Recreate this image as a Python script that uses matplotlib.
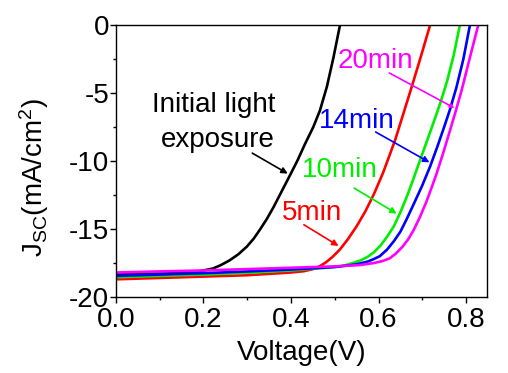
import matplotlib
matplotlib.use('Agg')
import matplotlib.pyplot as plt
from matplotlib.ticker import MultipleLocator, FormatStrFormatter

plt.rcParams['font.family'] = ['Liberation Sans', 'DejaVu Sans']
plt.rcParams['mathtext.default'] = 'regular'
plt.rcParams['axes.unicode_minus'] = False

# J-V curves (V in volts, J in mA/cm2)
v_init = [0.0, 0.05, 0.10, 0.146, 0.18, 0.20, 0.222, 0.24, 0.26, 0.28, 0.299, 0.315, 0.33, 0.345,
          0.36, 0.38, 0.398, 0.415, 0.432, 0.451, 0.466, 0.482, 0.497, 0.512]
j_init = [-18.35, -18.32, -18.28, -18.25, -18.15, -18.05, -17.9, -17.65, -17.3, -16.85, -16.3, -15.7,
          -15.0, -14.25, -13.4, -12.15, -11.03, -9.95, -8.75, -7.5, -6.3, -4.54, -2.4, 0.0]

v_5 = [0.0, 0.1, 0.2, 0.3, 0.4, 0.43, 0.45, 0.465, 0.48, 0.495, 0.512, 0.53, 0.55, 0.57, 0.59,
       0.61, 0.625, 0.638, 0.657, 0.676, 0.697, 0.718]
j_5 = [-18.7, -18.6, -18.5, -18.4, -18.2, -18.1, -17.95, -17.75, -17.45, -17.05, -16.5, -15.75,
       -14.8, -13.7, -12.4, -10.9, -9.6, -8.46, -6.5, -4.54, -2.3, 0.0]

v_10 = [0.0, 0.1, 0.2, 0.3, 0.4, 0.48, 0.52, 0.542, 0.56, 0.575, 0.59, 0.605, 0.62, 0.635, 0.649,
        0.665, 0.68, 0.695, 0.71, 0.726, 0.741, 0.757, 0.772, 0.786]
j_10 = [-18.55, -18.45, -18.35, -18.22, -18.05, -17.85, -17.7, -17.5, -17.3, -17.05, -16.7, -16.2,
        -15.55, -14.8, -13.85, -12.6, -11.3, -9.93, -8.6, -7.15, -5.76, -4.1, -2.2, 0.0]

v_14 = [0.0, 0.1, 0.2, 0.3, 0.4, 0.5, 0.55, 0.575, 0.59, 0.603, 0.62, 0.635, 0.65, 0.664, 0.68,
        0.70, 0.718, 0.735, 0.75, 0.763, 0.778, 0.794, 0.809]
j_14 = [-18.45, -18.35, -18.25, -18.12, -17.98, -17.8, -17.6, -17.4, -17.2, -17.0, -16.5, -15.9,
        -15.2, -14.3, -13.2, -11.8, -10.4, -8.9, -7.5, -6.25, -4.6, -2.5, 0.0]

v_20 = [0.0, 0.1, 0.2, 0.3, 0.4, 0.5, 0.558, 0.59, 0.61, 0.626, 0.64, 0.655, 0.668, 0.68, 0.695,
        0.71, 0.722, 0.733, 0.747, 0.762, 0.775, 0.79, 0.81, 0.828]
j_20 = [-18.2, -18.12, -18.05, -17.95, -17.85, -17.75, -17.65, -17.5, -17.35, -17.15, -16.8, -16.3,
        -15.75, -15.1, -14.1, -12.95, -11.9, -10.9, -9.5, -7.9, -6.5, -4.8, -2.25, 0.0]

fig = plt.figure(figsize=(5.08, 3.73), dpi=100)
ax = fig.add_axes([0.2283, 0.2038, 0.7304, 0.7292])

lw = 1.9
ax.plot(v_init, j_init, color='black', lw=lw)
ax.plot(v_5, j_5, color='#ff0000', lw=lw)
ax.plot(v_10, j_10, color='#00ee00', lw=lw)
ax.plot(v_14, j_14, color='#0000ff', lw=lw)
ax.plot(v_20, j_20, color='#ff00ff', lw=lw)

ax.set_xlim(0, 0.848)
ax.set_ylim(-20, 0)
ax.xaxis.set_major_locator(MultipleLocator(0.2))
ax.xaxis.set_minor_locator(MultipleLocator(0.1))
ax.yaxis.set_major_locator(MultipleLocator(5))
ax.yaxis.set_minor_locator(MultipleLocator(2.5))
ax.xaxis.set_major_formatter(FormatStrFormatter('%.1f'))
ax.tick_params(which='both', direction='out', top=False, right=False, labelsize=20)
ax.tick_params(which='major', length=4, width=1)
ax.tick_params(which='minor', length=2.5, width=1)
ax.tick_params(axis='x', pad=3)
ax.tick_params(axis='y', pad=1)
for s in ax.spines.values():
    s.set_linewidth(1)

ax.set_xlabel('Voltage(V)', fontsize=20, labelpad=5)
ax.set_ylabel('J$_{SC}$(mA/cm$^{2}$)', fontsize=20)
ax.yaxis.set_label_coords(-0.175, 0.44)

# labels and arrows
fs = 20
ax.text(0.224, -6.4, 'Initial light', fontsize=fs, ha='center', va='baseline')
ax.text(0.232, -8.95, 'exposure', fontsize=fs, ha='center', va='baseline')
ax.annotate('', xy=(0.398, -11.03), xytext=(0.306, -9.32),
            arrowprops=dict(arrowstyle='-|>', color='black', lw=1.2, mutation_scale=9))

ax.text(0.448, -14.34, '5min', fontsize=fs, color='#ff0000', ha='center', va='baseline')
ax.annotate('', xy=(0.514, -16.35), xytext=(0.424, -14.58),
            arrowprops=dict(arrowstyle='-|>', color='#ff0000', lw=1.2, mutation_scale=9))

ax.text(0.512, -11.18, '10min', fontsize=fs, color='#00ee00', ha='center', va='baseline')
ax.annotate('', xy=(0.647, -13.97), xytext=(0.539, -11.89),
            arrowprops=dict(arrowstyle='-|>', color='#00ee00', lw=1.2, mutation_scale=9))

ax.text(0.551, -7.57, '14min', fontsize=fs, color='#0000ff', ha='center', va='baseline')
ax.annotate('', xy=(0.722, -10.2), xytext=(0.588, -7.77),
            arrowprops=dict(arrowstyle='-|>', color='#0000ff', lw=1.2, mutation_scale=9))

ax.text(0.594, -3.16, '20min', fontsize=fs, color='#ff00ff', ha='center', va='baseline')
ax.annotate('', xy=(0.779, -6.2), xytext=(0.619, -3.43),
            arrowprops=dict(arrowstyle='-|>', color='#ff00ff', lw=1.2, mutation_scale=6))

fig.savefig('out.png', dpi=100)
